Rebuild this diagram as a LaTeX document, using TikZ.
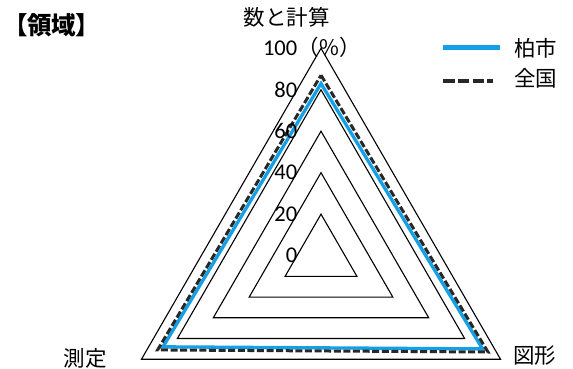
\documentclass[tikz,border=0pt]{standalone}
\usepackage{fontspec}
\setmainfont{Carlito}
\newfontfamily\jp{Noto Sans CJK JP}
\newfontfamily\jptitle[RawFeature=+palt]{Noto Sans CJK JP}
\definecolor{kashiwa}{RGB}{20,160,230}
\definecolor{zenkoku}{RGB}{40,40,40}

\begin{document}
\begin{tikzpicture}[x=1pt, y=1pt,
  grid/.style={line width=1.1pt, line join=miter},
  city/.style={kashiwa, line width=3.3pt, line join=miter},
  nation/.style={zenkoku, line width=3pt, dash pattern=on 7pt off 2.6pt},
  num/.style={font=\fontsize{22.5}{22.5}\selectfont, anchor=east, inner sep=0pt},
  lab/.style={font=\jp\fontsize{21.5}{21.5}\selectfont, inner sep=0pt}]
\def \cx {321}
\def \cy {112.4}
\def \s {2.073}
\def \xn {297.5}

\useasboundingbox (0,0) rectangle (573,368);

% grid and values
\begin{scope}[shift={(\cx,\cy)}]
\foreach \v in {20,40,60,80,100}
  \draw[grid] (90:{\v*\s}) -- (-30:{\v*\s}) -- (210:{\v*\s}) -- cycle;

\draw[city] (90:{83*\s}) -- (-30:{90*\s}) -- (210:{88*\s}) -- cycle;
\draw[nation] (90:{87*\s}) -- (-30:{93*\s}) -- (210:{91*\s}) -- cycle;
\end{scope}

% scale
\foreach \v in {0,20,...,100}
  \node[num] (n\v) at (\xn, {\cy + \v*\s}) {\v};
\node[lab, anchor=base west] (pct) at (n100.base east) {（\%）};

% axis names
\node[lab] (keisan) at (286.5, 351) {数と計算};
\node[lab] (zukei) at (534.5, 12) {図形};
\node[lab] (sokutei) at (85, 10) {測定};

\node[font=\jptitle\bfseries\fontsize{24.5}{24.5}\selectfont, inner sep=0pt] (title) at (51.5, 343) {【領域】};

% legend
\coordinate (ka) at (443, 320.7);
\coordinate (kb) at (500, 320.7);
\draw[city, line width=4.5pt] (ka) -- (kb);
\node[lab, anchor=west] (kashiwa) at (514, 319.5) {柏市};

\coordinate (za) at (443, 287);
\coordinate (zb) at (493, 287);
\draw[nation, line width=3.8pt, dash pattern=on 11.5pt off 3.3pt] (za) -- (zb);
\node[lab, anchor=west] (zenkoku) at (514, 289.5) {全国};

\end{tikzpicture}
\end{document}
